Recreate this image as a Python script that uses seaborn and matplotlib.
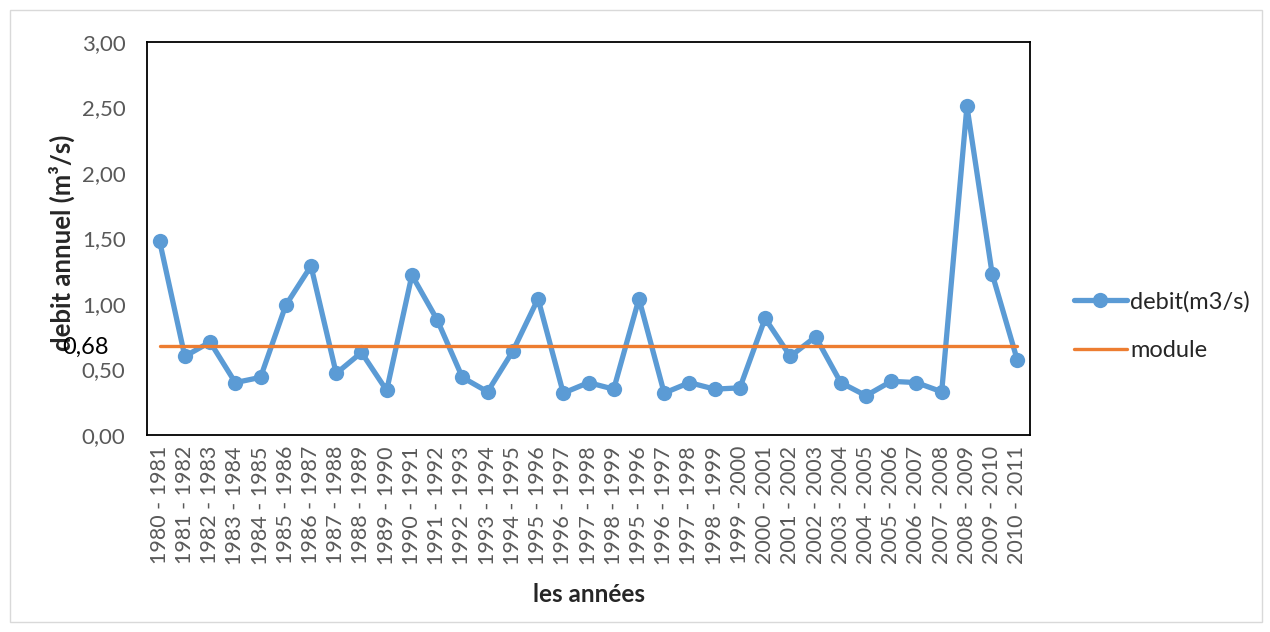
import numpy as np
import pandas as pd
import matplotlib
matplotlib.use("Agg")
import matplotlib.pyplot as plt
import seaborn as sns
from matplotlib.patches import Rectangle
from matplotlib.ticker import FixedLocator, FuncFormatter

# data
years = ["1980 - 1981", "1981 - 1982", "1982 - 1983", "1983 - 1984", "1984 - 1985",
         "1985 - 1986", "1986 - 1987", "1987 - 1988", "1988 - 1989", "1989 - 1990",
         "1990 - 1991", "1991 - 1992", "1992 - 1993", "1993 - 1994", "1994 - 1995",
         "1995 - 1996", "1996 - 1997", "1997 - 1998", "1998 - 1999", "1995 - 1996",
         "1996 - 1997", "1997 - 1998", "1998 - 1999", "1999 - 2000", "2000 - 2001",
         "2001 - 2002", "2002 - 2003", "2003 - 2004", "2004 - 2005", "2005 - 2006",
         "2006 - 2007", "2007 - 2008", "2008 - 2009", "2009 - 2010", "2010 - 2011"]
debit = [1.48, 0.60, 0.71, 0.40, 0.44, 0.99, 1.29, 0.47, 0.63, 0.34,
         1.22, 0.88, 0.44, 0.33, 0.64, 1.04, 0.32, 0.40, 0.35, 1.04,
         0.32, 0.40, 0.35, 0.36, 0.89, 0.60, 0.75, 0.40, 0.30, 0.41,
         0.40, 0.33, 2.51, 1.23, 0.57]
module_value = 0.68

df = pd.DataFrame({
    "pos": np.arange(len(years)),
    "debit": debit,
    "module": [module_value] * len(years),
})

sns.set_style("white")
plt.rcParams["font.family"] = ["Lato", "DejaVu Sans"]

blue = "#5B9BD5"
orange = "#ED7D31"
grey_txt = "#595959"

fig = plt.figure(figsize=(12.7, 6.32), dpi=100)
ax = fig.add_axes([147 / 1270, 1 - 435 / 632, (1030 - 147) / 1270, (435 - 42) / 632])

sns.lineplot(data=df, x="pos", y="debit", ax=ax, color=blue, linewidth=3.8,
             marker="o", markersize=11, markeredgewidth=0, label="debit(m3/s)")
sns.lineplot(data=df, x="pos", y="module", ax=ax, color=orange, linewidth=2.4,
             label="module")

ax.set_xlim(-0.5, len(years) - 0.5)
ax.set_ylim(0, 3)
ax.set_yticks(np.arange(0, 3.01, 0.5))
ax.yaxis.set_major_formatter(FuncFormatter(lambda v, p: f"{v:.2f}".replace(".", ",")))
ax.set_xticks(np.arange(len(years)))
ax.set_xticklabels(years, rotation=90)
ax.xaxis.set_minor_locator(FixedLocator(np.arange(len(years) + 1) - 0.5))
ax.tick_params(axis="x", which="major", length=0, pad=8, labelsize=15.5, labelcolor=grey_txt)
ax.tick_params(axis="x", which="minor", length=6, width=1.3, color="black")
ax.tick_params(axis="y", length=6, width=1.3, color="black", labelsize=16,
               labelcolor=grey_txt, pad=9.5)

for s in ax.spines.values():
    s.set_visible(True)
    s.set_color("black")
    s.set_linewidth(1.3)

ax.set_xlabel("les années", fontsize=17.5, fontweight="bold")
ax.set_ylabel("debit annuel (m³/s)", fontsize=18.5, fontweight="bold")
ax.yaxis.set_label_coords(-0.0815, 0.49)
ax.xaxis.set_label_coords(0.5, -0.377)

# module value written next to the axis, as in the original
fig.text(62 / 1270, 1 - 347 / 632, "0,68", fontsize=17, color="black", va="center", ha="left")

ax.legend_.remove()
handles, labels = ax.get_legend_handles_labels()
fig.legend(handles, labels, loc="center left", bbox_to_anchor=(1062 / 1270, 1 - 326 / 632),
           frameon=False, fontsize=17, handlelength=2.25, labelspacing=1.2,
           handletextpad=0.15, borderpad=0)

fig.patches.append(Rectangle((10 / 1270, 10 / 632), 1252 / 1270, 612 / 632,
                             transform=fig.transFigure, fill=False,
                             edgecolor="#D9D9D9", linewidth=1))

fig.savefig("out.png", dpi=100)
